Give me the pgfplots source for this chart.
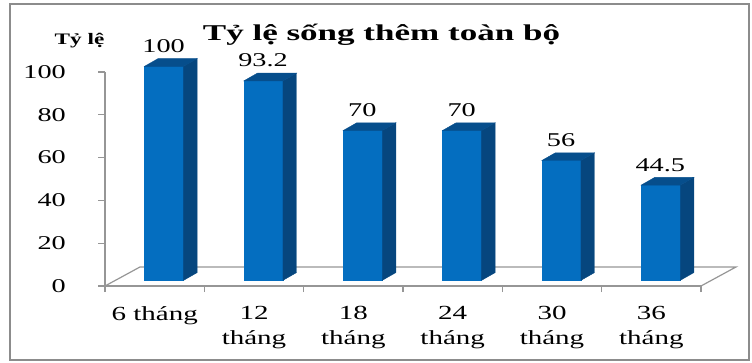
\documentclass[border=0pt]{standalone}
\usepackage{fontspec}
\usepackage{pgfplots}
\usepackage{pgfplotstable}
\pgfplotsset{compat=1.18}
\setmainfont{Liberation Serif}[FakeStretch=1.45]
\newfontfamily\titlefont{Liberation Serif}[FakeStretch=1.55]

\definecolor{barfront}{RGB}{4,110,192}
\definecolor{barside}{RGB}{6,70,126}
\definecolor{bartop}{RGB}{6,78,140}
\definecolor{floorline}{RGB}{150,150,150}
\definecolor{frameline}{RGB}{140,140,140}

% overall survival (%) by follow-up time
\pgfplotstableread{
x v
0 100
1 93.2
2 70
3 70
4 56
5 44.5
}\survival

\pgfdeclareplotmark{void}{}

\begin{document}
\begin{tikzpicture}[x=1pt,y=1pt]
\useasboundingbox (0,0) rectangle (752,362);
\draw[frameline, line width=1.6pt] (10,2) rectangle (749,358);

\node[font=\titlefont\bfseries\fontsize{22.6}{26}\selectfont, anchor=base] at (381.5,321) {Tỷ lệ sống thêm toàn bộ};
\node[font=\bfseries\fontsize{16}{19}\selectfont, anchor=base] at (79.5,317) {Tỷ lệ};

\begin{axis}[
  at={(105pt,76pt)}, anchor=south west,
  scale only axis, width=596pt, height=214pt,
  xmin=-0.5, xmax=5.5, ymin=0, ymax=100,
  clip=false,
  axis x line*=bottom, axis y line*=left,
  axis line style={floorline, line width=1.2pt},
  ytick={0,20,...,100},
  xtick={0,...,5},
  xticklabels={6 tháng, 12\\tháng, 18\\tháng, 24\\tháng, 30\\tháng, 36\\tháng},
  minor xtick={-0.5,0.5,...,5.5},
  tick align=outside,
  major tick length=7pt, minor tick length=6pt,
  major x tick style={draw=none},
  tick style={floorline, line width=1.2pt},
  /pgf/number format/assume math mode=true,
  yticklabel style={font=\fontsize{19.5}{22}\selectfont, anchor=east, inner sep=0pt, xshift=-32pt},
  xticklabel style={font=\fontsize{20}{25}\selectfont, align=center, anchor=north, inner sep=0pt, yshift=-13pt},
]
% floor of the 3-D plot area
\addplot[floorline, line width=1.2pt, no marks] coordinates {(-0.5,0) (-0.148,8.88) (5.852,8.88) (5.5,0)};

% 3-D columns: front face, side face and top face drawn at each value
\addplot[
  only marks, mark=void, scatter,
  visualization depends on={rawy \as \rawv},
  scatter/@pre marker code/.code={%
    \fill[barfront] (axis direction cs:-0.1015,2.66-\rawv) rectangle (axis direction cs:0.2915,2.66);
    \fill[barside] (axis direction cs:0.2915,2.66-\rawv) -- (axis direction cs:0.4275,6.26-\rawv)
       -- (axis direction cs:0.4275,6.26) -- (axis direction cs:0.2915,2.66) -- cycle;
    \fill[bartop] (axis direction cs:-0.1015,2.66) -- (axis direction cs:0.0345,6.26)
       -- (axis direction cs:0.4275,6.26) -- (axis direction cs:0.2915,2.66) -- cycle;
  },
  scatter/@post marker code/.code={},
] table[x=x,y=v]{\survival};

% value labels
\addplot[
  only marks, mark=void,
  nodes near coords,
  every node near coord/.append style={anchor=center, xshift=9pt, yshift=26pt,
    font=\fontsize{19.5}{22}\selectfont, inner sep=0pt},
] table[x=x,y=v]{\survival};
\end{axis}
\end{tikzpicture}
\end{document}
